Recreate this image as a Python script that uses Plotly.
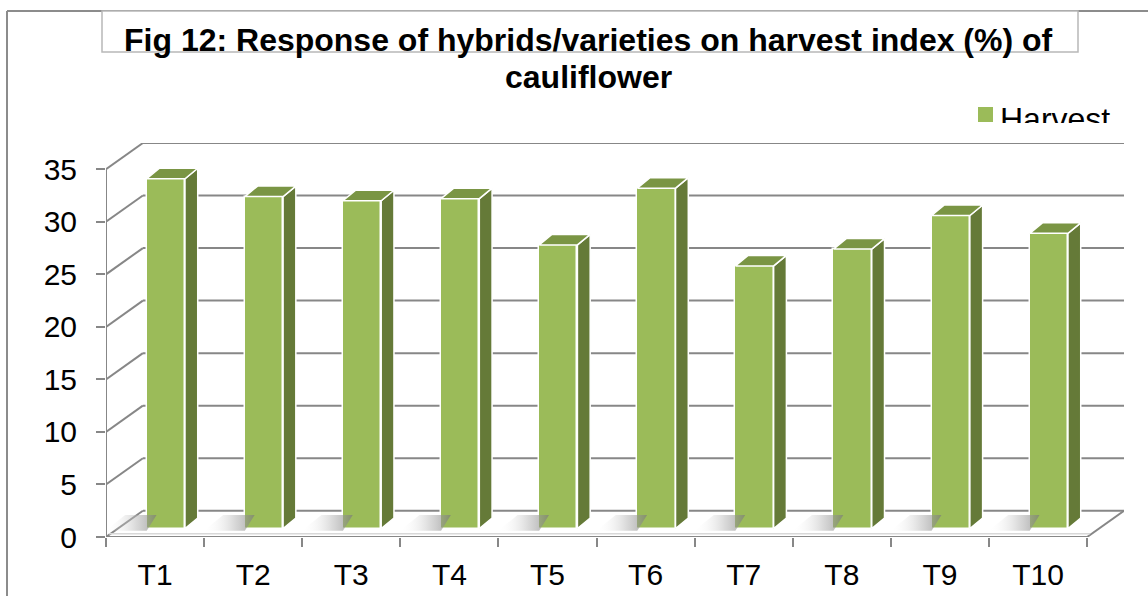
import plotly.graph_objects as go

# ---- data ----
categories = ["T1", "T2", "T3", "T4", "T5", "T6", "T7", "T8", "T9", "T10"]
harvest_index = [33.3, 31.6, 31.2, 31.4, 27.0, 32.4, 25.0, 26.6, 29.8, 28.1]
y_ticks = [0, 5, 10, 15, 20, 25, 30, 35]
series_name = "Harvest"
title_line1 = "Fig 12: Response of hybrids/varieties on harvest index (%) of"
title_line2 = "cauliflower"

# ---- styling / geometry constants ----
W, H = 1148, 596
FRONT = "#9BBB59"
SIDE = "#657A38"
TOP = "#7A9544"
GRID = "#878787"
FONT = "Liberation Sans, Arial, sans-serif"
DX, DY = 0.376, 2.5          # depth offset of the walls (x in category units, y in value units)
BAR_L, BAR_W = 0.415, 0.39   # bar front-face left offset and width within a category
BASE = 0.8                   # front face base (depth shift)
BX, BY = 0.13, 1.0           # bar depth (side/top faces)
YMAX = y_ticks[-1]
N = len(categories)

def px_x(p):
    return p / W

def px_y(p):
    return 1 - p / H

fig = go.Figure()

shapes = []
# back wall gridlines and left wall diagonals
for v in y_ticks:
    shapes.append(dict(type="line", xref="x", yref="y", layer="below",
                       x0=DX, y0=v + DY, x1=N + DX, y1=v + DY,
                       line=dict(color=GRID, width=2)))
    shapes.append(dict(type="line", xref="x", yref="y", layer="below",
                       x0=0, y0=v, x1=DX, y1=v + DY,
                       line=dict(color=GRID, width=2)))
# left front axis line
shapes.append(dict(type="line", xref="x", yref="y", layer="below",
                   x0=0, y0=0, x1=0, y1=YMAX, line=dict(color=GRID, width=2)))
# floor right diagonal + front edge
shapes.append(dict(type="line", xref="x", yref="y", layer="below",
                   x0=N, y0=0, x1=N + DX, y1=DY, line=dict(color=GRID, width=2)))
shapes.append(dict(type="line", xref="x", yref="y", layer="below",
                   x0=0.03, y0=0.3, x1=N + 0.03, y1=0.3, line=dict(color="#d8d8d8", width=1.5)))
shapes.append(dict(type="line", xref="x", yref="y", layer="below",
                   x0=0, y0=0, x1=N, y1=0, line=dict(color=GRID, width=2)))

# floor shadows (gradient) left of each bar
for i, v in enumerate(harvest_index):
    L = i + BAR_L
    fig.add_trace(go.Scatter(
        x=[L - 0.42, L, L + 0.1, L - 0.22, L - 0.42],
        y=[BASE - 0.2, BASE - 0.2, BASE + 1.3, BASE + 1.3, BASE - 0.2],
        mode="lines", fill="toself", line=dict(width=0, color="rgba(0,0,0,0)"),
        fillgradient=dict(type="horizontal",
                          colorscale=[[0, "rgba(255,255,255,0)"], [0.6, "rgba(180,180,180,0.5)"],
                                      [1, "rgba(120,120,120,0.65)"]]),
        hoverinfo="skip", showlegend=False))

# bar front faces
fig.add_trace(go.Bar(
    x=[i + BAR_L + BAR_W / 2 for i in range(N)],
    y=harvest_index, base=BASE, width=BAR_W,
    marker=dict(color=FRONT, line=dict(color="white", width=1.5)),
    name=series_name, showlegend=False))

# side and top faces
for i, v in enumerate(harvest_index):
    L = i + BAR_L
    R = L + BAR_W
    top = BASE + v
    fig.add_trace(go.Scatter(
        x=[R, R, R + BX, R + BX, R],
        y=[BASE, top, top + BY, BASE + BY, BASE],
        mode="lines", fill="toself", fillcolor=SIDE,
        line=dict(color="white", width=1.5), hoverinfo="skip", showlegend=False))
    fig.add_trace(go.Scatter(
        x=[L, R, R + BX, L + BX, L],
        y=[top, top, top + BY, top + BY, top],
        mode="lines", fill="toself", fillcolor=TOP,
        line=dict(color="white", width=1.5), hoverinfo="skip", showlegend=False))

# clipped legend (own small subplot so the text is cut like the original)
fig.add_trace(go.Scatter(
    x=[15.5], y=[8.5], mode="markers",
    marker=dict(symbol="square", size=15, color=FRONT),
    xaxis="x2", yaxis="y2", showlegend=False, hoverinfo="skip", cliponaxis=True))
fig.add_trace(go.Scatter(
    x=[30], y=[1.5], mode="text", text=[series_name], textposition="middle right",
    textfont=dict(family=FONT, size=32, color="black"),
    xaxis="x2", yaxis="y2", showlegend=False, hoverinfo="skip", cliponaxis=True))

# outer border and title box
shapes.append(dict(type="line", xref="paper", yref="paper",
                   x0=px_x(7), y0=px_y(11), x1=px_x(7), y1=0,
                   line=dict(color="#8c8c8c", width=2)))
shapes.append(dict(type="line", xref="paper", yref="paper",
                   x0=px_x(7), y0=px_y(11), x1=1, y1=px_y(11),
                   line=dict(color="#8c8c8c", width=2)))
shapes.append(dict(type="rect", xref="paper", yref="paper",
                   x0=px_x(102), y0=px_y(52), x1=px_x(1078), y1=px_y(11),
                   fillcolor="white", line=dict(color="#b8b8b8", width=1.5)))

annotations = [
    dict(text="<b>" + title_line1 + "</b>", xref="paper", yref="paper",
         x=px_x(589), y=px_y(40), xanchor="center", yanchor="middle", showarrow=False,
         font=dict(family=FONT, size=32, color="black")),
    dict(text="<b>" + title_line2 + "</b>", xref="paper", yref="paper",
         x=px_x(589), y=px_y(77), xanchor="center", yanchor="middle", showarrow=False,
         font=dict(family=FONT, size=32, color="black")),
]

fig.update_layout(
    width=W, height=H,
    margin=dict(l=0, r=0, t=0, b=0, autoexpand=False),
    paper_bgcolor="white", plot_bgcolor="white",
    shapes=shapes, annotations=annotations,
    showlegend=False, bargap=0,
    font=dict(family=FONT, color="black"),
    xaxis=dict(domain=[px_x(106), px_x(1124)], range=[0, N + DX], automargin=False,
               tickmode="array", tickvals=[i + 0.5 for i in range(N)], ticktext=categories,
               ticks="", showgrid=False, zeroline=False, showline=False,
               tickfont=dict(family=FONT, size=30, color="black"),
               ticklabelstandoff=17,
               minor=dict(tickmode="array", tickvals=list(range(N + 1)), ticks="outside",
                          ticklen=9, tickwidth=2, tickcolor=GRID, showgrid=False)),
    yaxis=dict(domain=[1 - 537 / H, 1 - 143 / H], range=[0, YMAX + DY], automargin=False,
               tickmode="array", tickvals=y_ticks, ticks="outside", ticklen=9,
               tickwidth=2, tickcolor=GRID, showgrid=False, zeroline=False, showline=False,
               tickfont=dict(family=FONT, size=30, color="black"),
               ticklabelstandoff=13),
    xaxis2=dict(domain=[px_x(970), px_x(1130)], range=[0, 160], visible=False,
                anchor="y2", fixedrange=True, automargin=False),
    yaxis2=dict(domain=[1 - 123 / H, 1 - 95 / H], range=[0, 28], visible=False,
                anchor="x2", fixedrange=True, automargin=False),
)

fig.write_html("out.html", config={"displayModeBar": False},
               post_script="document.body.style.margin='0px';document.body.style.overflow='hidden';")
